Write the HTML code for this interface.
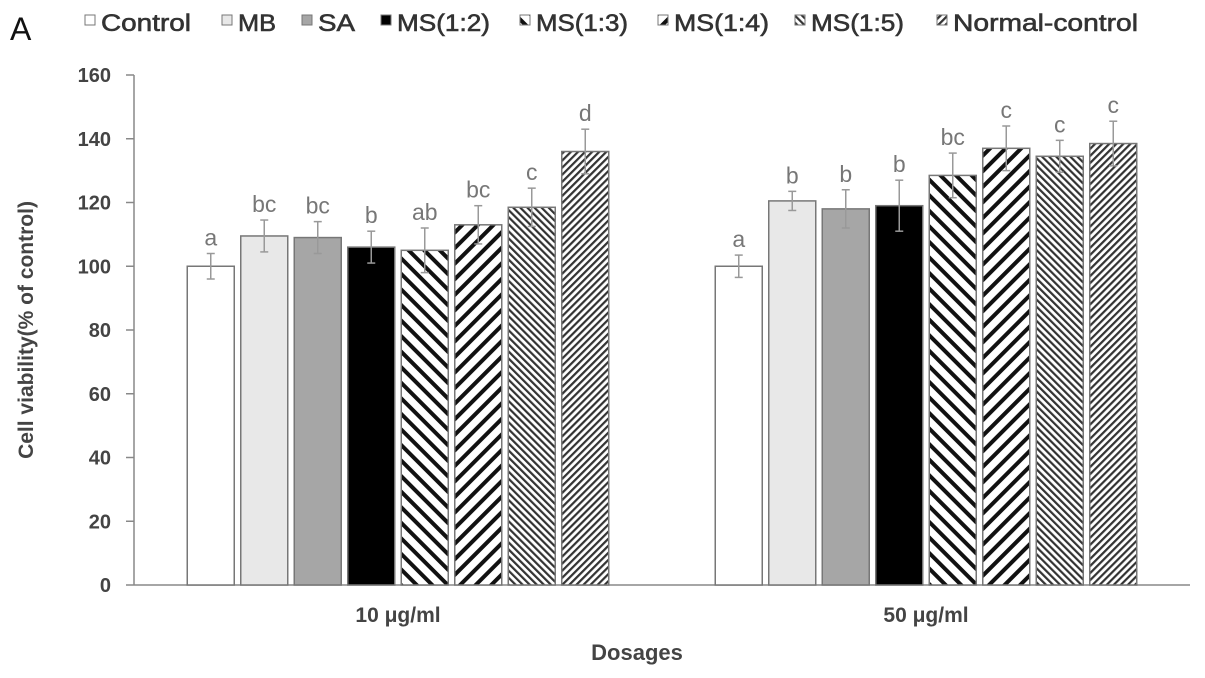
<!DOCTYPE html>
<html><head><meta charset="utf-8"><style>
body{margin:0;background:#fff}
svg{display:block;font-family:"Liberation Sans",sans-serif}
</style></head><body>
<svg id="chart" width="1205" height="678" viewBox="0 0 1205 678">
<defs>
<pattern id="p3" patternUnits="userSpaceOnUse" width="11" height="11" patternTransform="rotate(-45)"><rect width="11" height="11" fill="#fff"/><rect width="4" height="11" fill="#111"/></pattern>
<pattern id="p4" patternUnits="userSpaceOnUse" width="11" height="11" patternTransform="rotate(45)"><rect width="11" height="11" fill="#fff"/><rect width="4" height="11" fill="#111"/></pattern>
<pattern id="p5" patternUnits="userSpaceOnUse" width="5" height="5" patternTransform="rotate(-45)"><rect width="5" height="5" fill="#fff"/><rect width="2.2" height="5" fill="#333"/></pattern>
<pattern id="p6" patternUnits="userSpaceOnUse" width="5" height="5" patternTransform="rotate(45)"><rect width="5" height="5" fill="#fff"/><rect width="2.2" height="5" fill="#333"/></pattern>
</defs>
<text x="10" y="40" font-size="32" fill="#111">A</text>
<g id="legend"></g>
<g id="axes"></g>
<g id="bars"></g>
<text x="33" y="330" font-size="21" font-weight="bold" fill="#444" transform="rotate(-90 33 330)" text-anchor="middle">Cell viability(% of control)</text>
<text x="637" y="660" font-size="22" font-weight="bold" fill="#444" text-anchor="middle">Dosages</text>
</svg>
<script>
const categories=["10 μg/ml","50 μg/ml"];
const seriesNames=["Control","MB","SA","MS(1:2)","MS(1:3)","MS(1:4)","MS(1:5)","Normal-control"];
const values10=[100,109.5,109,106,105,113,118.5,136];
const values50=[100,120.5,118,119,128.5,137,134.5,138.5];
const errors10=[4,5,5,5,7,6,6,7];
const errors50=[3.5,3,6,8,7,7,5,7];
const letters10=["a","bc","bc","b","ab","bc","c","d"];
const letters50=["a","b","b","b","bc","c","c","c"];
const yTicks=[0,20,40,60,80,100,120,140,160];
const fills=["#fff","#e8e8e8","#a6a6a6","#000","url(#p3)","url(#p4)","url(#p5)","url(#p6)"];
const NS="http://www.w3.org/2000/svg";
const y0=585,yTop=75,yMax=160,left=134,right=1190;
const Y=v=>y0-(y0-yTop)*v/yMax;
const catW=(right-left)/categories.length;
const step=53.5,bw=47;
function mk(t,a,p){const e=document.createElementNS(NS,t);for(const k in a)e.setAttribute(k,a[k]);p.appendChild(e);return e;}
const axes=document.getElementById('axes'),bars=document.getElementById('bars'),leg=document.getElementById('legend');
yTicks.forEach(t=>{const e=mk('text',{x:111,y:Y(t)+7,'font-size':20,'font-weight':'bold',fill:'#444','text-anchor':'end'},axes);e.textContent=t;


mk('line',{x1:126,x2:left,y1:Y(t),y2:Y(t),stroke:'#888','stroke-width':1.5},axes);});
const yax=mk('line',{x1:left,x2:left,y1:Y(yMax),y2:y0,stroke:'#888','stroke-width':1.5},axes);


const ax=mk('line',{x1:left,x2:right,y1:y0,y2:y0,stroke:'#888','stroke-width':1.5},axes);


const vals=[values10,values50],errs=[errors10,errors50],lets=[letters10,letters50];
categories.forEach((c,ci)=>{
 const cx=left+catW*(ci+0.5);
 const lb=mk('text',{x:cx,y:622,'font-size':21,'font-weight':'bold',fill:'#444','text-anchor':'middle'},axes);lb.textContent=c;
 
 
 vals[ci].forEach((v,si)=>{
  const x=cx+(si-3.5)*step-bw/2;
  const r=mk('rect',{x:x,y:Y(v),width:bw,height:y0-Y(v),fill:fills[si],stroke:'#777','stroke-width':1.5},bars);
  
  
  const e=errs[ci][si],mx=x+bw/2;
  mk('line',{x1:mx,x2:mx,y1:Y(v+e),y2:Y(v-e),stroke:'#999','stroke-width':1.5},bars);
  mk('line',{x1:mx-4,x2:mx+4,y1:Y(v+e),y2:Y(v+e),stroke:'#999','stroke-width':1.5},bars);
  mk('line',{x1:mx-4,x2:mx+4,y1:Y(v-e),y2:Y(v-e),stroke:'#999','stroke-width':1.5},bars);
  const t=mk('text',{x:mx,y:Y(v+e)-8,'font-size':23,fill:'#777','text-anchor':'middle'},bars);t.textContent=lets[ci][si];
  
  
 });
});
const lx=[85,222,302,381,520,658,795,937];
const lw=[90,38,37,93,92,95,93,185];
seriesNames.forEach((n,i)=>{
 const g=mk('g',{},leg);
 
 
 mk('rect',{x:lx[i],y:15,width:10,height:10,fill:fills[i],stroke:'#777','stroke-width':1},g);
 const t=mk('text',{x:lx[i]+16,y:31,'font-size':24,fill:'#333',stroke:'#333','stroke-width':0.6,textLength:lw[i],lengthAdjust:'spacingAndGlyphs'},g);t.textContent=n;
});
</script>
</body></html>
